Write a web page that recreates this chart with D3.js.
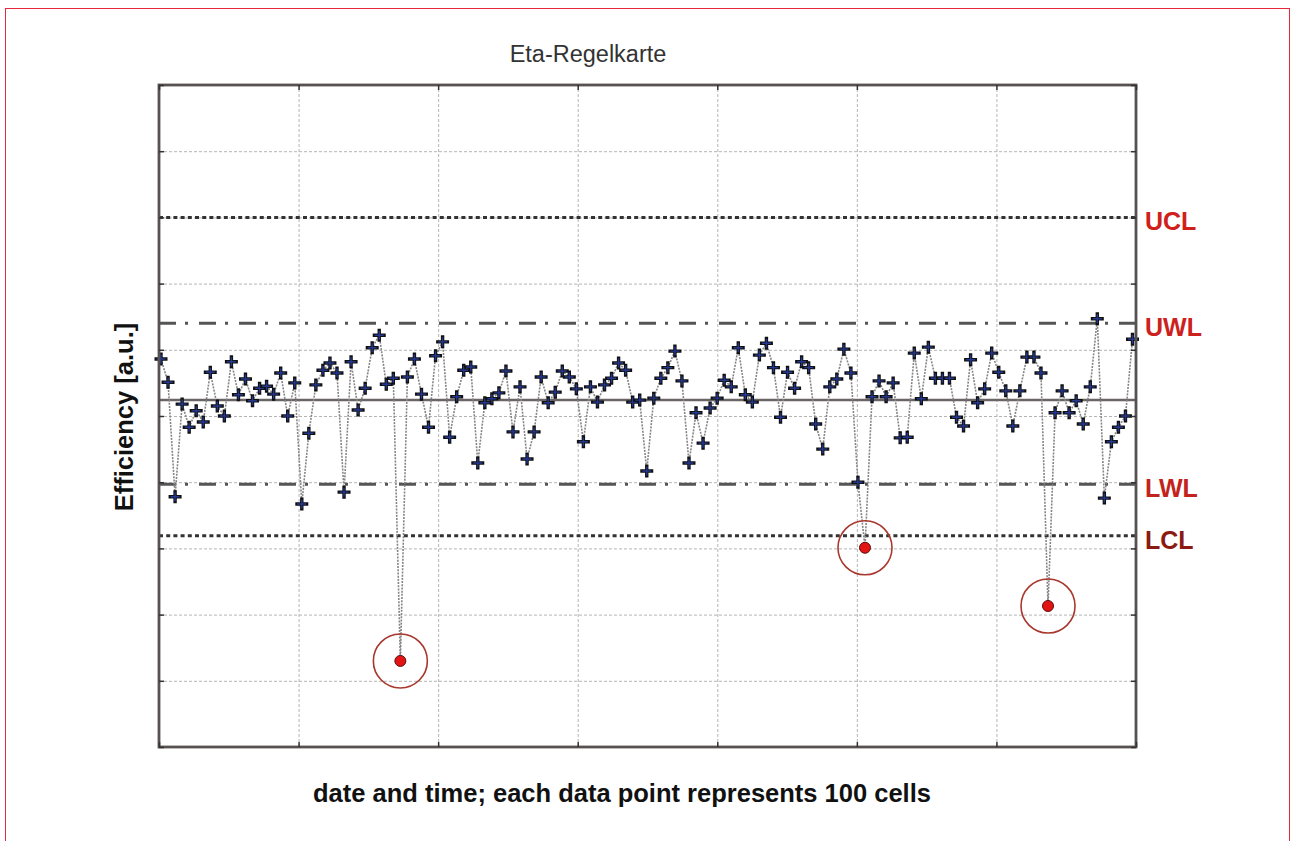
<!DOCTYPE html>
<html>
<head>
<meta charset="utf-8">
<script src="https://cdn.jsdelivr.net/npm/d3@7"></script>
<style>
  body { margin: 0; background: #fff; }
  text { font-family: "Liberation Sans", Arial, sans-serif; }
</style>
</head>
<body>
<div id="chart"></div>
<script>
// efficiency per sample (each point = 100 cells), arbitrary units
var values = [
  5.86, 5.51, 3.78, 5.18, 4.83, 5.08, 4.91, 5.66, 5.15, 5.00,
  5.82, 5.32, 5.56, 5.23, 5.42, 5.45, 5.33, 5.65, 5.00, 5.50,
  3.67, 4.74, 5.47, 5.69, 5.80, 5.65, 3.85, 5.82, 5.09, 5.42,
  6.03, 6.22, 5.48, 5.57, 1.30, 5.59, 5.86, 5.33, 4.83, 5.91,
  6.12, 4.68, 5.29, 5.69, 5.74, 4.29, 5.20, 5.26, 5.35, 5.68,
  4.76, 5.44, 4.35, 4.76, 5.59, 5.20, 5.36, 5.68, 5.59, 5.41,
  4.61, 5.44, 5.21, 5.47, 5.57, 5.80, 5.69, 5.21, 5.24, 4.17,
  5.27, 5.57, 5.73, 5.98, 5.53, 4.29, 5.05, 4.59, 5.12, 5.27,
  5.54, 5.44, 6.03, 5.32, 5.21, 5.92, 6.10, 5.73, 4.98, 5.66,
  5.42, 5.82, 5.73, 4.88, 4.50, 5.44, 5.56, 6.01, 5.65, 4.00,
  3.01, 5.29, 5.53, 5.29, 5.50, 4.67, 4.68, 5.95, 5.26, 6.04,
  5.57, 5.57, 5.57, 4.98, 4.85, 5.85, 5.20, 5.41, 5.95, 5.66,
  5.38, 4.85, 5.38, 5.89, 5.89, 5.65, 2.13, 5.05, 5.38, 5.05,
  5.23, 4.88, 5.44, 6.47, 3.76, 4.61, 4.83, 5.00, 6.16
];

// control chart limits
var centerValue = 5.24;
var limitNames = ["UCL", "UWL", "LWL", "LCL"];
var limitValues = [8.0, 6.40, 3.97, 3.19];
var limitColors = ["#d0201c", "#cc211c", "#c2231c", "#8a1a12"];

var yTicks = d3.range(0, 11);

//SVG size
var svgWidth = 1298;
var svgHeight = 841;

var margin = { top: 85, right: 162, bottom: 94, left: 159 };
var chartWidth = svgWidth - margin.left - margin.right;
var chartHeight = svgHeight - margin.top - margin.bottom;

var svg = d3.select("#chart")
  .append("svg")
  .attr("width", svgWidth)
  .attr("height", svgHeight);

// thin red page frame
svg.append("rect")
  .attr("x", 5.5)
  .attr("y", 8.5)
  .attr("width", 1284)
  .attr("height", 900)
  .attr("fill", "none")
  .attr("stroke", "#e8283c")
  .attr("stroke-width", 1);

var chartGroup = svg.append("g")
  .attr("transform", `translate(${margin.left}, ${margin.top})`);

var xScale = d3.scaleLinear()
  .domain([0, values.length - 1])
  .range([2, chartWidth - 3.5]);

var yScale = d3.scaleLinear()
  .domain([0, 10])
  .range([chartHeight, 0]);

// 7 equal divisions for the vertical grid
var gridScale = d3.scaleLinear()
  .domain([0, 7])
  .range([0, chartWidth]);

// grid lines
var yGrid = chartGroup.append("g")
  .call(d3.axisLeft(yScale).tickValues(yTicks).tickSize(-chartWidth).tickFormat(""));
var xGrid = chartGroup.append("g")
  .attr("transform", `translate(0, ${chartHeight})`)
  .call(d3.axisBottom(gridScale).ticks(7).tickSize(-chartHeight).tickFormat(""));
[yGrid, xGrid].forEach(function(g) {
  g.select(".domain").remove();
  g.selectAll("line")
    .attr("stroke", "#b4b4b4")
    .attr("stroke-width", 1)
    .attr("stroke-dasharray", "3,2");
});

// centre line
chartGroup.append("line")
  .attr("x1", 0)
  .attr("x2", chartWidth)
  .attr("y1", yScale(centerValue))
  .attr("y2", yScale(centerValue))
  .attr("stroke", "#6a6464")
  .attr("stroke-width", 2.5);

// control / warning limits
chartGroup.selectAll(".limit")
  .data(limitValues)
  .enter()
  .append("line")
  .attr("class", "limit")
  .attr("x1", 0)
  .attr("x2", chartWidth)
  .attr("y1", d => yScale(d))
  .attr("y2", d => yScale(d))
  .attr("stroke", (d, i) => (i == 0 || i == 3) ? "#333" : "#555")
  .attr("stroke-width", 3)
  .attr("stroke-dasharray", (d, i) => (i == 0 || i == 3) ? "4,3.2" : "17,9,3,11");

// data line
var line = d3.line()
  .x((d, i) => xScale(i))
  .y(d => yScale(d));

chartGroup.append("path")
  .datum(values)
  .attr("d", line)
  .attr("fill", "none")
  .attr("stroke", "#858585")
  .attr("stroke-width", 1.6)
  .attr("stroke-dasharray", "2,1.2");

var lcl = limitValues[3];
var points = values.map((v, i) => ({ i: i, v: v }));
var normal = points.filter(d => d.v >= lcl);
var outside = points.filter(d => d.v < lcl);

// plus markers
var plus = chartGroup.selectAll(".pt")
  .data(normal)
  .enter()
  .append("g")
  .attr("class", "pt")
  .attr("transform", d => `translate(${xScale(d.i)}, ${yScale(d.v)})`);
plus.append("path")
  .attr("d", "M-6.5,0H6.5M0,-6.5V6.5")
  .attr("stroke", "#111")
  .attr("stroke-width", 3.4);
plus.append("path")
  .attr("d", "M-4.5,0H4.5M0,-4.5V4.5")
  .attr("stroke", "#24378f")
  .attr("stroke-width", 1.4);

// out of control points
chartGroup.selectAll(".ring")
  .data(outside)
  .enter()
  .append("circle")
  .attr("class", "ring")
  .attr("cx", d => xScale(d.i))
  .attr("cy", d => yScale(d.v))
  .attr("r", 27)
  .attr("fill", "none")
  .attr("stroke", "#a8382e")
  .attr("stroke-width", 1.6);

chartGroup.selectAll(".bad")
  .data(outside)
  .enter()
  .append("circle")
  .attr("class", "bad")
  .attr("cx", d => xScale(d.i))
  .attr("cy", d => yScale(d.v))
  .attr("r", 5.5)
  .attr("fill", "#e31414")
  .attr("stroke", "#5a1010")
  .attr("stroke-width", 1);

// plot frame
chartGroup.append("rect")
  .attr("width", chartWidth)
  .attr("height", chartHeight)
  .attr("fill", "none")
  .attr("stroke", "#575151")
  .attr("stroke-width", 2.8);

// inward tick marks on all four sides
var frameAxes = [
  { axis: d3.axisLeft(yScale).tickValues(yTicks), t: "translate(0,0)" },
  { axis: d3.axisRight(yScale).tickValues(yTicks), t: `translate(${chartWidth},0)` },
  { axis: d3.axisTop(gridScale).ticks(7), t: "translate(0,0)" },
  { axis: d3.axisBottom(gridScale).ticks(7), t: `translate(0,${chartHeight})` }
];
frameAxes.forEach(function(a) {
  var g = chartGroup.append("g")
    .attr("transform", a.t)
    .call(a.axis.tickSizeInner(-5).tickSizeOuter(0).tickFormat(""));
  g.select(".domain").remove();
  g.selectAll("line").attr("stroke", "#333").attr("stroke-width", 1.5);
});

// limit labels at right
chartGroup.selectAll(".limitLabel")
  .data(limitNames)
  .enter()
  .append("text")
  .attr("class", "limitLabel")
  .attr("x", chartWidth + 9)
  .attr("y", (d, i) => yScale(limitValues[i]) + 13)
  .attr("font-size", "25px")
  .attr("font-weight", "bold")
  .attr("fill", (d, i) => limitColors[i])
  .text(d => d);

// titles
svg.append("text")
  .attr("x", 588)
  .attr("y", 62)
  .attr("text-anchor", "middle")
  .attr("font-size", "23.5px")
  .attr("fill", "#333")
  .text("Eta-Regelkarte");

svg.append("text")
  .attr("transform", "translate(133, 417) rotate(-90)")
  .attr("text-anchor", "middle")
  .attr("font-size", "25.5px")
  .attr("font-weight", "bold")
  .attr("fill", "#111")
  .text("Efficiency [a.u.]");

svg.append("text")
  .attr("x", 622)
  .attr("y", 802)
  .attr("text-anchor", "middle")
  .attr("font-size", "25.5px")
  .attr("font-weight", "bold")
  .attr("fill", "#111")
  .text("date and time; each data point represents 100 cells");
</script>
</body>
</html>
